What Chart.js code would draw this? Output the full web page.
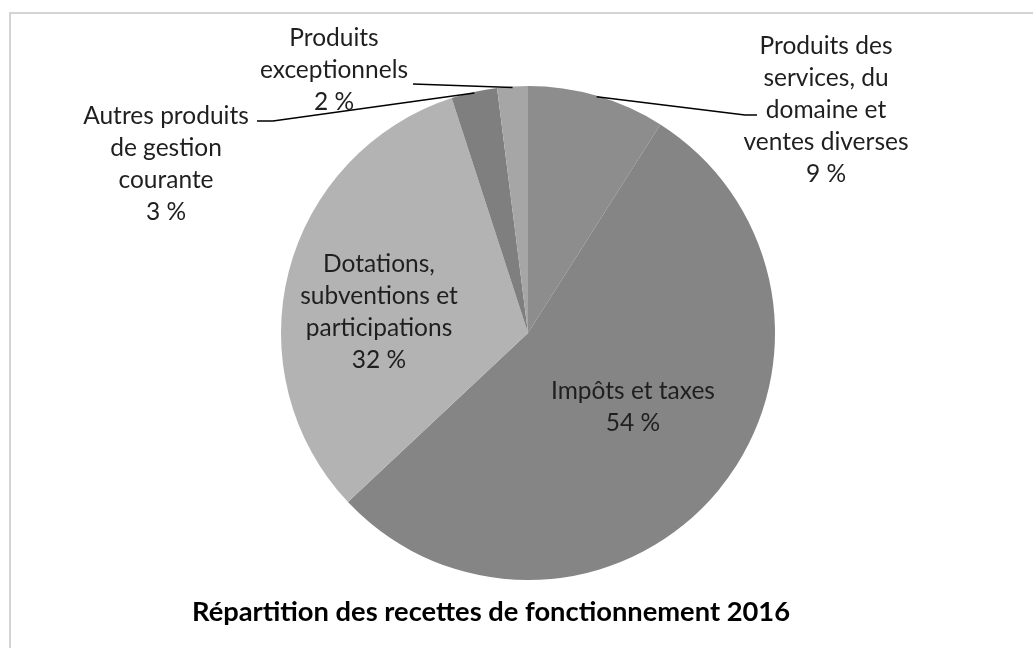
<!DOCTYPE html>
<html>
<head>
<meta charset="utf-8">
<script src="https://cdn.jsdelivr.net/npm/chart.js@4.4.1/dist/chart.umd.min.js"></script>
<style>
    html, body { margin: 0; padding: 0; background: #fff; }
    #wrap { position: relative; width: 1033px; height: 648px; overflow: hidden; }
</style>
</head>
<body>
<div id="wrap"><canvas id="recettesChart" width="1033" height="648"></canvas></div>
<script>
const categories = [
    "Produits des services, du domaine et ventes diverses",
    "Impôts et taxes",
    "Dotations, subventions et participations",
    "Autres produits de gestion courante",
    "Produits exceptionnels",
];
const shares = [9, 54, 32, 3, 2];
const labelLines = [
    ["Produits des", "services, du", "domaine et", "ventes diverses"],
    ["Impôts et taxes"],
    ["Dotations,", "subventions et", "participations"],
    ["Autres produits", "de gestion", "courante"],
    ["Produits", "exceptionnels"],
];
const chartTitle = "Répartition des recettes de fonctionnement 2016";

const sliceColors = ["#8d8d8d", "#858585", "#b3b3b3", "#7f7f7f", "#a6a6a6"];
const FONT = "Lato, 'Open Sans', sans-serif";

// where the text blocks sit (centre x, first line y) and leader line knees
const labelLayout = [
    { x: 826, y: 46, lead: [[745, 115], [757, 115]] },
    { x: 633, y: 391 },
    { x: 379, y: 264 },
    { x: 166, y: 116, lead: [[273, 121], [257, 121]] },
    { x: 334, y: 38, lead: [[413, 84]] },
];
const titleBox = { x: 491, y: 612, width: 598 };

const frameAndLabels = {
    id: "frameAndLabels",
    beforeDraw(chart) {
        const c = chart.ctx;
        c.save();
        c.fillStyle = "#fff";
        c.fillRect(0, 0, chart.width, chart.height);
        c.strokeStyle = "#d4d4d4";
        c.lineWidth = 2;
        c.beginPath();
        c.moveTo(10, chart.height + 5);
        c.lineTo(10, 13);
        c.lineTo(chart.width + 5, 13);
        c.stroke();
        c.restore();
    },
    afterDatasetsDraw(chart) {
        const c = chart.ctx;
        const arcs = chart.getDatasetMeta(0).data;
        c.save();
        arcs.forEach((arc, i) => {
            const lay = labelLayout[i];
            if (lay.lead) {
                const mid = (arc.startAngle + arc.endAngle) / 2;
                const r = arc.outerRadius - 1;
                c.strokeStyle = "#000";
                c.lineWidth = 1.5;
                c.beginPath();
                c.moveTo(arc.x + Math.cos(mid) * r, arc.y + Math.sin(mid) * r);
                lay.lead.forEach(p => c.lineTo(p[0], p[1]));
                c.stroke();
            }
            const lines = labelLines[i].concat([shares[i] + " %"]);
            c.fillStyle = "#1f1f1f";
            c.font = "24.5px " + FONT;
            c.textAlign = "center";
            c.textBaseline = "middle";
            lines.forEach((t, k) => c.fillText(t, lay.x, lay.y + k * 32));
        });

        // title sized to the width it takes in the original
        c.font = "bold 28px " + FONT;
        const size = 28 * titleBox.width / c.measureText(chartTitle).width;
        c.font = "bold " + size.toFixed(1) + "px " + FONT;
        c.fillStyle = "#000";
        c.textAlign = "center";
        c.textBaseline = "middle";
        c.fillText(chartTitle, titleBox.x, titleBox.y);
        c.restore();
    },
};

new Chart(document.getElementById("recettesChart").getContext("2d"), {
    type: "pie",
    data: {
        labels: categories,
        datasets: [{
            data: shares,
            backgroundColor: sliceColors,
            borderWidth: 0,
        }],
    },
    options: {
        responsive: false,
        animation: false,
        layout: { padding: { top: 86, bottom: 68, left: 23, right: 0 } },
        plugins: {
            legend: { display: false },
            tooltip: { enabled: false },
            title: { display: false },
        },
    },
    plugins: [frameAndLabels],
});
</script>
</body>
</html>
